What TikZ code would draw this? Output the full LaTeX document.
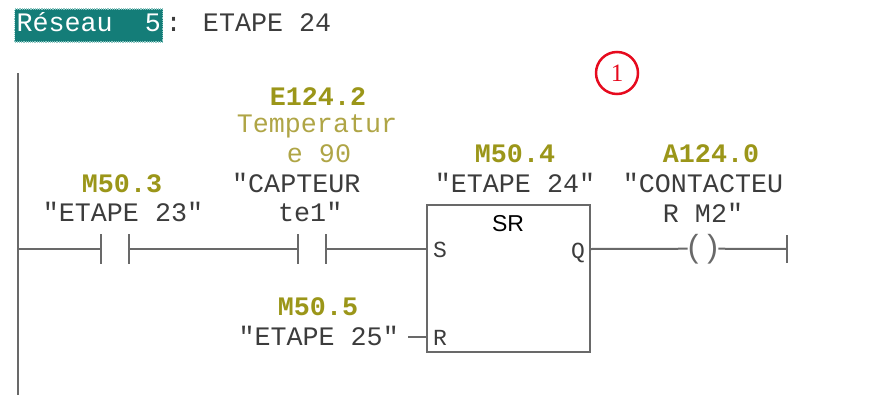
\documentclass[tikz,border=0pt]{standalone}
\usepackage{fontspec}
\setmainfont{Liberation Serif}
\setsansfont{Liberation Sans}
\newfontfamily\plcmono{Liberation Mono}
\usetikzlibrary{positioning}
\definecolor{wiregray}{RGB}{105,105,105}
\definecolor{textgray}{RGB}{60,60,60}
\definecolor{addrolive}{RGB}{155,150,25}
\definecolor{cmntolive}{RGB}{175,165,70}
\definecolor{netteal}{RGB}{20,125,120}
\definecolor{netedge}{RGB}{140,200,195}
\definecolor{markred}{RGB}{230,10,30}
\newcommand{\plcbig}{\plcmono\fontsize{26.7}{30}\selectfont}
\newcommand{\plcpin}{\plcmono\fontsize{23}{25}\selectfont}
\tikzset{
	wire/.style={draw=wiregray, line width=2pt},
	addr/.style={text=addrolive, font=\plcbig\bfseries, inner sep=0pt},
	symb/.style={text=textgray, font=\plcbig, inner sep=0pt},
	cmnt/.style={text=cmntolive, font=\plcbig, inner sep=0pt},
	pin/.style={text=textgray, font=\plcpin, inner sep=0pt}
}
\begin{document}
\begin{tikzpicture}[x=1pt, y=-1pt]
		\useasboundingbox (0,0) rectangle (874,404);
		
		% title of the network
		\node[fill=netteal, draw=netedge, densely dotted, line width=1.2pt, text=white, font=\plcbig,
			inner xsep=2pt, inner ysep=0pt, text height=23pt, text depth=10pt, anchor=base west] (net) at (14,32) {Réseau~~5};
		\node[symb, anchor=base west] (nettitle) at ([xshift=2pt]net.base east) {: ETAPE 24};
		\node[circle, draw=markred, line width=2.5pt, minimum size=42pt, inner sep=0pt, text=markred,
			font=\fontsize{25}{25}\selectfont] (mark) at (617,73) {1};
		
		% power rail and rung
		\coordinate (railtop) at (18,73);
		\coordinate (railbot) at (18,395);
		\draw[wire, line width=2.5pt] (railtop) -- (railbot);
		\coordinate (rung) at (18,249);
		\coordinate (c1a) at (101,249);
		\coordinate (c1b) at (129,249);
		\coordinate (c2a) at (298,249);
		\coordinate (c2b) at (326,249);
		\draw[wire] (c1a) ++(0,-15) -- ++(0,30);
		\draw[wire] (c1b) ++(0,-15) -- ++(0,30);
		\draw[wire] (c2a) ++(0,-15) -- ++(0,30);
		\draw[wire] (c2b) ++(0,-15) -- ++(0,30);
		
		% SR flip-flop
		\node[draw=wiregray, line width=2pt, minimum width=163pt, minimum height=147pt, inner sep=0pt] (sr) at (508.5,278.5) {};
		\node[anchor=base, font=\sffamily\fontsize{23}{23}\selectfont] (srname) at (508,231) {SR};
		\coordinate (sin) at (sr.west |- c2b);
		\coordinate (rin) at (427,337);
		\coordinate (qout) at (sr.east |- c2b);
		\node[pin, anchor=base west] (spin) at (433,257) {S};
		\node[pin, anchor=base west] (rpin) at (433,345) {R};
		\node[pin, anchor=base east] (qpin) at (585,258) {Q};
		\coordinate (r5in) at (408,337);
		
		% output coil
		\node[text=wiregray, font=\sffamily\fontsize{32}{32}\selectfont, inner sep=0pt, anchor=base] (coil) at (703,257) {(~)};
		\coordinate (rungend) at (787,249);
		\draw[wire] (rungend) ++(0,-14) -- ++(0,28);
		
		\draw[wire] (rung) -- (c1a);
		\draw[wire] (c1b) -- (c2a);
		\draw[wire] (c2b) -- (sin);
		\draw[wire] (r5in) -- (rin);
		\draw[wire] (qout) -- (coil.west);
		\draw[wire] (coil.east) -- (rungend);
		
		% operands
		\node[addr, anchor=base] (m503) at (122,192) {M50.3};
		\node[symb, anchor=base] (etape23) at (123,221) {"ETAPE 23"};
		\node[addr, anchor=base] (e1242) at (318,105) {E124.2};
		\node[cmnt, anchor=base] (temp) at (317,132) {Temperatur};
		\node[cmnt, anchor=base] (temp90) at (319,162) {e 90};
		\node[symb, anchor=base west] (capteur) at (232,192) {"CAPTEUR};
		\node[symb, anchor=base west] (capteurtel) at (278,221) {te1"};
		\node[addr, anchor=base] (m504) at (515,162) {M50.4};
		\node[symb, anchor=base] (etape24) at (515,192) {"ETAPE 24"};
		\node[addr, anchor=base] (m505) at (318,315) {M50.5};
		\node[symb, anchor=base east] (etape25) at (399,345) {"ETAPE 25"};
		\node[addr, anchor=base] (a1240) at (711,162) {A124.0};
		\node[symb, anchor=base] (contact) at (703,192) {"CONTACTEU};
		\node[symb, anchor=base] (contactm2) at (703,222) {R M2"};
	\end{tikzpicture}
\end{document}
